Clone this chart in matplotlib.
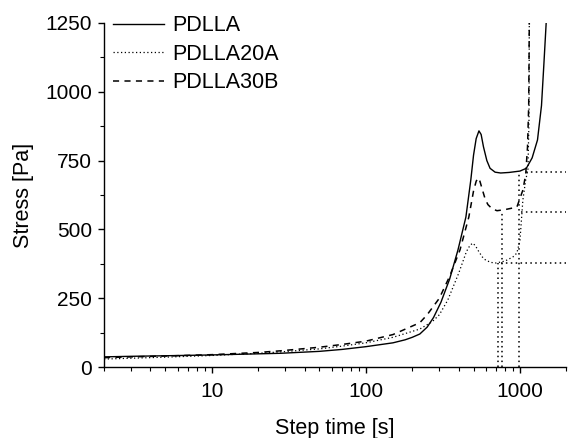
import numpy as np
import matplotlib
matplotlib.use('Agg')
import matplotlib.pyplot as plt
from matplotlib.ticker import MultipleLocator, FixedLocator, LogLocator, NullFormatter

plt.rcParams['font.family'] = ['Liberation Sans', 'DejaVu Sans']

# values
t_pdlla = [2, 3, 5, 10, 20, 28, 50, 70, 100, 150, 180, 200, 224, 250, 275, 307, 350,
           396, 446, 480, 500, 520, 542, 560, 580, 610, 640, 690, 750, 850, 1000,
           1100, 1200, 1300, 1380, 1430, 1480]
s_pdlla = [37, 39, 41, 44, 48, 50, 57, 64, 74, 88, 99, 108, 120, 145, 180, 235, 320,
           425, 545, 680, 770, 830, 858, 845, 800, 750, 722, 708, 705, 707, 712,
           722, 760, 825, 950, 1100, 1250]

t_20a = [2, 3, 5, 10, 20, 28, 50, 70, 100, 150, 224, 270, 300, 340, 400, 450, 475,
         495, 515, 540, 570, 600, 650, 700, 800, 900, 955, 1000, 1045, 1090, 1127,
         1145, 1150]
s_20a = [29, 32, 36, 42, 50, 55, 66, 76, 88, 108, 138, 165, 190, 243, 340, 420, 443,
         450, 440, 420, 400, 388, 380, 378, 385, 400, 414, 460, 607, 680, 716,
         900, 1250]

t_30b = [2, 3, 5, 10, 20, 28, 50, 70, 100, 150, 224, 250, 300, 350, 408, 466, 500,
         520, 535, 550, 570, 595, 620, 660, 710, 800, 900, 955, 1045, 1090, 1120,
         1140, 1150]
s_30b = [34, 37, 40, 45, 53, 59, 72, 82, 94, 118, 161, 190, 250, 330, 425, 545, 640,
         675, 687, 675, 645, 610, 590, 575, 568, 572, 578, 581, 643, 700, 800,
         950, 1250]

# dotted guide lines: (time, stress level, start of horizontal part)
guide_t = [985, 764, 716]
guide_s = [710, 564, 379]
guide_h0 = [1100, 1010, 750]

labels = ['PDLLA', 'PDLLA20A', 'PDLLA30B']

fig = plt.figure(figsize=(5.69, 4.38), dpi=100)
ax = fig.add_axes([0.1828, 0.162, 0.8125, 0.7855])

ax.plot(t_pdlla, s_pdlla, color='black', lw=1.0, label=labels[0])
ax.plot(t_20a, s_20a, color='black', lw=0.9, linestyle=(0, (1, 2)), label=labels[1])
ax.plot(t_30b, s_30b, color='black', lw=1.1, linestyle=(0, (4, 3.5)), label=labels[2])

xmax = 2000
for t, s, h0 in zip(guide_t, guide_s, guide_h0):
    ax.plot([t, t], [0, s], color='black', lw=1.1, linestyle=(0, (1, 2.2)))
    ax.plot([h0, xmax], [s, s], color='black', lw=1.1, linestyle=(0, (1, 2.2)))

ax.set_xscale('log')
ax.set_xlim(2, xmax)
ax.set_ylim(0, 1250)

ax.xaxis.set_major_locator(FixedLocator([10, 100, 1000]))
ax.xaxis.set_major_formatter(plt.FuncFormatter(lambda v, p: '%d' % v))
ax.xaxis.set_minor_locator(LogLocator(base=10, subs=np.arange(2, 10)))
ax.xaxis.set_minor_formatter(NullFormatter())
ax.yaxis.set_major_locator(MultipleLocator(250))
ax.yaxis.set_minor_locator(MultipleLocator(125))

ax.spines['top'].set_visible(False)
ax.spines['right'].set_visible(False)
for sp in ['left', 'bottom']:
    ax.spines[sp].set_linewidth(1.0)

ax.tick_params(which='major', direction='out', length=4.5, width=1.0, labelsize=15)
ax.tick_params(which='minor', direction='out', length=3, width=0.8)
ax.tick_params(axis='x', which='major', pad=6.5)
ax.tick_params(axis='y', which='major', pad=4)

ax.set_xlabel('Step time [s]', fontsize=15.5, labelpad=12)
ax.set_ylabel('Stress [Pa]', fontsize=15.5, labelpad=8)

ax.legend(loc='upper left', bbox_to_anchor=(0.019, 1.022), frameon=False, fontsize=15.5,
          handlelength=2.4, handletextpad=0.35, borderpad=0, borderaxespad=0,
          labelspacing=0.34)

fig.savefig('out.png', dpi=100)
